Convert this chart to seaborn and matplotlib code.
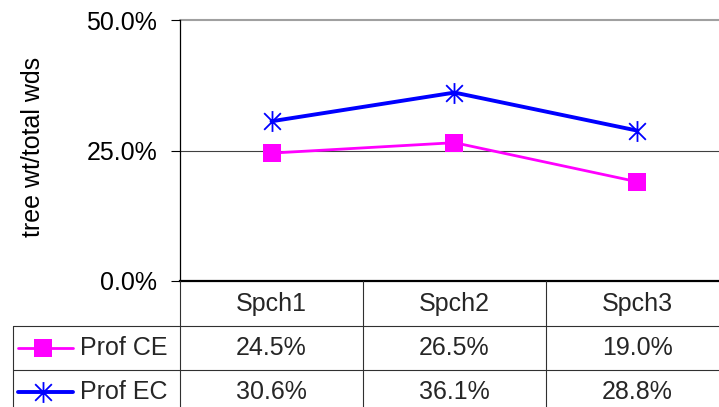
import matplotlib
matplotlib.use("Agg")
import matplotlib.pyplot as plt
import seaborn as sns
import pandas as pd
from matplotlib.path import Path
from matplotlib.lines import Line2D

# chart data
categories = ["Spch1", "Spch2", "Spch3"]
prof_ce = [24.5, 26.5, 19.0]
prof_ec = [30.6, 36.1, 28.8]
series_names = ["Prof CE", "Prof EC"]
y_ticks = [0, 25, 50]

sns.set_theme(style="white")
plt.rcParams["font.family"] = ["Liberation Sans", "DejaVu Sans"]
FS = 18

W, H = 719, 407
fig = plt.figure(figsize=(W / 100, H / 100), dpi=100)

def fx(x):
    return x / W

def fy(y):
    return 1 - y / H

# Excel style star marker: vertical bar + X
star = Path([(0, -1), (0, 1), (-0.8, -0.8), (0.8, 0.8), (-0.8, 0.8), (0.8, -0.8)],
            [Path.MOVETO, Path.LINETO, Path.MOVETO, Path.LINETO, Path.MOVETO, Path.LINETO])

left, top, bottom, colw = 180, 20, 281, 183
ax = fig.add_axes([fx(left), fy(bottom), 3 * colw / W, (bottom - top) / H])

df = pd.DataFrame({"val": prof_ce + prof_ec,
                   "series": [series_names[0]] * 3 + [series_names[1]] * 3})
df["x"] = list(range(len(categories))) * 2

sns.lineplot(data=df[df.series == "Prof CE"], x="x", y="val", ax=ax, color="#FF00FF",
             lw=2.0, marker="s", markersize=13, markeredgewidth=0, legend=False)
sns.lineplot(data=df[df.series == "Prof EC"], x="x", y="val", ax=ax, color="#0000FF",
             lw=2.8, marker=star, markersize=15, markeredgewidth=1.3,
             markeredgecolor="#0000FF", legend=False)

ax.set_xlim(-0.5, 2.5)
ax.set_ylim(0, 50)
ax.set_yticks(y_ticks)
ax.set_yticklabels([f"{v:.1f}%" for v in y_ticks], fontsize=FS, color="black")
ax.set_xticks([])
ax.set_xlabel("")
ax.set_ylabel("tree wt/total wds", fontsize=FS, color="black")
ax.yaxis.set_label_coords(-0.245, 0.513)
ax.tick_params(axis="y", direction="out", length=6.5, width=0.8, color="black", pad=10, left=True)
ax.axhline(25, color="#404040", lw=0.8, zorder=0)
ax.axhline(50, color="#a0a0a0", lw=1.5, zorder=0, clip_on=False)
for s in ["top", "right"]:
    ax.spines[s].set_visible(False)
ax.spines["left"].set_color("black")
ax.spines["left"].set_linewidth(0.9)
ax.spines["bottom"].set_color("black")
ax.spines["bottom"].set_linewidth(1.6)

# data table below the plot
grid = "#303030"
rows = [281, 326, 370, 414]
cols = [left + i * colw for i in range(4)]
tl = fig.transFigure

def hline(x0, x1, y):
    fig.add_artist(Line2D([fx(x0), fx(x1)], [fy(y), fy(y)], color=grid, lw=0.8, transform=tl))

def vline(x, y0, y1):
    fig.add_artist(Line2D([fx(x), fx(x)], [fy(y0), fy(y1)], color=grid, lw=0.8, transform=tl))

for r in rows[1:]:
    hline(13, cols[-1], r)
vline(13, rows[1], rows[3])
for c in cols:
    vline(c, rows[0], rows[3])

centers = [(rows[i] + rows[i + 1]) / 2 for i in range(3)]
for i, cat in enumerate(categories):
    fig.text(fx(cols[i] + colw / 2), fy(centers[0]), cat, fontsize=FS, ha="center", va="center")
for r, vals in enumerate([prof_ce, prof_ec]):
    for i, v in enumerate(vals):
        fig.text(fx(cols[i] + colw / 2), fy(centers[r + 1]), f"{v:.1f}%", fontsize=FS,
                 ha="center", va="center")

# legend keys in row labels
keys = [dict(color="#FF00FF", lw=2.0, marker="s", markersize=13, markeredgewidth=0),
        dict(color="#0000FF", lw=2.8, marker=star, markersize=15, markeredgewidth=1.3)]
for r, name in enumerate(series_names):
    yc = fy(centers[r + 1])
    k = keys[r]
    fig.add_artist(Line2D([fx(18), fx(73)], [yc, yc], transform=tl, color=k["color"], lw=k["lw"]))
    fig.add_artist(Line2D([fx(43)], [yc], transform=tl, linestyle="none", color=k["color"],
                          marker=k["marker"], markersize=k["markersize"],
                          markeredgewidth=k["markeredgewidth"]))
    fig.text(fx(80), yc, name, fontsize=FS, ha="left", va="center")

fig.savefig("out.png", dpi=100)
